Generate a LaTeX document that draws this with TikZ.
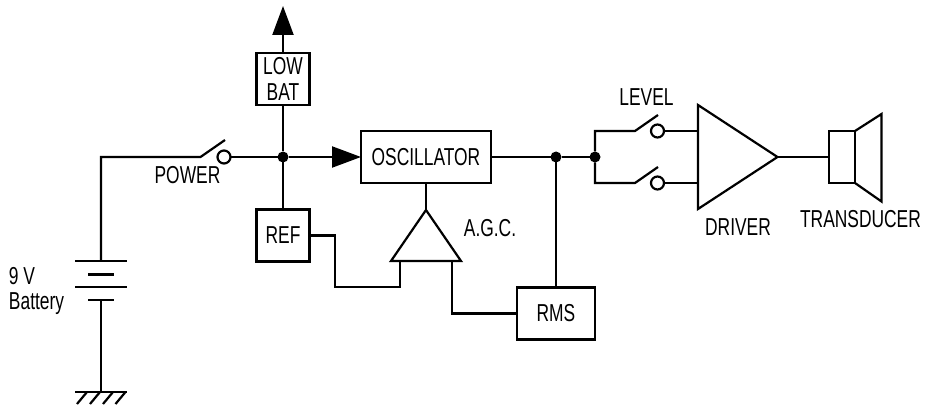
\documentclass[tikz,border=0pt]{standalone}
\usepackage{fontspec}
\setmainfont[FakeStretch=0.71]{Liberation Sans}
\usetikzlibrary{arrows.meta, positioning}

\begin{document}
\begin{tikzpicture}[x=1pt,y=-1pt,on grid,line width=2.2pt,line join=miter,
    every node/.style={font=\fontsize{24.5}{26}\selectfont,inner sep=0pt,outer sep=0pt}]
  \tikzstyle{blockB}=[rectangle,draw,align=center,minimum width=53pt,minimum height=52pt]
  \tikzstyle{dotB}=[circle,fill=black,minimum size=11pt]
  \tikzstyle{contactB}=[circle,draw,minimum size=13pt]
  \tikzstyle{bigtip}=[-{Triangle[length=29pt,width=21pt]}]
  \useasboundingbox (0,0) rectangle (930,409);
  % Blocks
  \node[dotB] (j1) at (283,157) {};
  \node[blockB] (lowbat) [above=78pt of j1] {LOW\\BAT};
  \node[blockB] (ref) [below=78.5pt of j1] {REF};
  \node[blockB, minimum width=130pt] (osc) [right=143pt of j1] {OSCILLATOR};
  \node[dotB] (j2) [right=273pt of j1] {};
  \node[dotB] (j3) [right=39pt of j2] {};
  \node[blockB, minimum width=78pt] (rms) [below=156.5pt of j2] {RMS};
  \coordinate (top) at (283,6);

  % Battery and ground
  \coordinate (corner) at (101,157);
  \coordinate (plateA) at (101,261);
  \coordinate (plateB) at (101,300);
  \coordinate (earth) at (101,392);
  \draw (plateA) -- (corner) -- (200.5,157) -- +(24.5,-17);
  \draw (75,261) -- (126.5,261) (88,274.5) -- (114,274.5)
        (75,287) -- (126.5,287) (88,300) -- (114,300);
  \draw (plateB) -- (earth);
  \draw (75,392) -- (126.5,392);
  \foreach \x in {87,100,113,125.5}
    \draw (\x,392) -- +(-10,12);
  \node[contactB] (power) at (224,157) {};
  \draw (power) -- (j1);

  % Wires round the oscillator
  \draw[bigtip] (lowbat) -- (top);
  \draw (j1) -- (lowbat);
  \draw (j1) -- (ref);
  \draw[bigtip] (j1) -- (osc);
  \draw (osc) -- (j2) -- (j3);
  \draw (j2) -- (rms);

  % A.G.C.
  \coordinate (agcA) at (osc.south |- 0,210);
  \draw (agcA) -- (391,261) -- (461,261) -- cycle;
  \draw (osc) -- (agcA);
  \draw (ref.east) -- (335,235.5) -- (335,287) -- (400,287) -- (400,261);
  \draw (452,261) |- (rms.west);

  % Level switches
  \node[contactB] (high) at (657.5,131) {};
  \node[contactB] (low) at (657.5,183) {};
  \draw (j3) |- (635,131) -- +(23,-16);
  \draw (j3) |- (635,183) -- +(23,-16);
  \coordinate (drvA) at (698,105);
  \coordinate (drvB) at (698,209);
  \coordinate (drvC) at (777.5,157);
  \draw (drvA) -- (drvB) -- (drvC) -- cycle;
  \draw (high) -- (drvA |- high);
  \draw (low) -- (drvA |- low);

  % Transducer
  \node[rectangle,draw,minimum width=26pt,minimum height=52pt] (coil) at (842,157) {};
  \draw (drvC) -- (coil);
  \draw (coil.north east) -- (881.5,114) -- (881.5,201.5) -- (coil.south east);

  % Labels
  \node (powerlabel) at (187.5,175) {POWER};
  \node (levellabel) at (646.5,97) {LEVEL};
  \node (driverlabel) at (738,227) {DRIVER};
  \node (translabel) at (860.5,219) {TRANSDUCER};
  \node (agclabel) at (490,228) {A.G.C.};
  \node[align=left,anchor=west,font=\fontsize{24.5}{25}\selectfont] (batlabel) at (9,291) {9 V\\Battery};
\end{tikzpicture}
\end{document}
